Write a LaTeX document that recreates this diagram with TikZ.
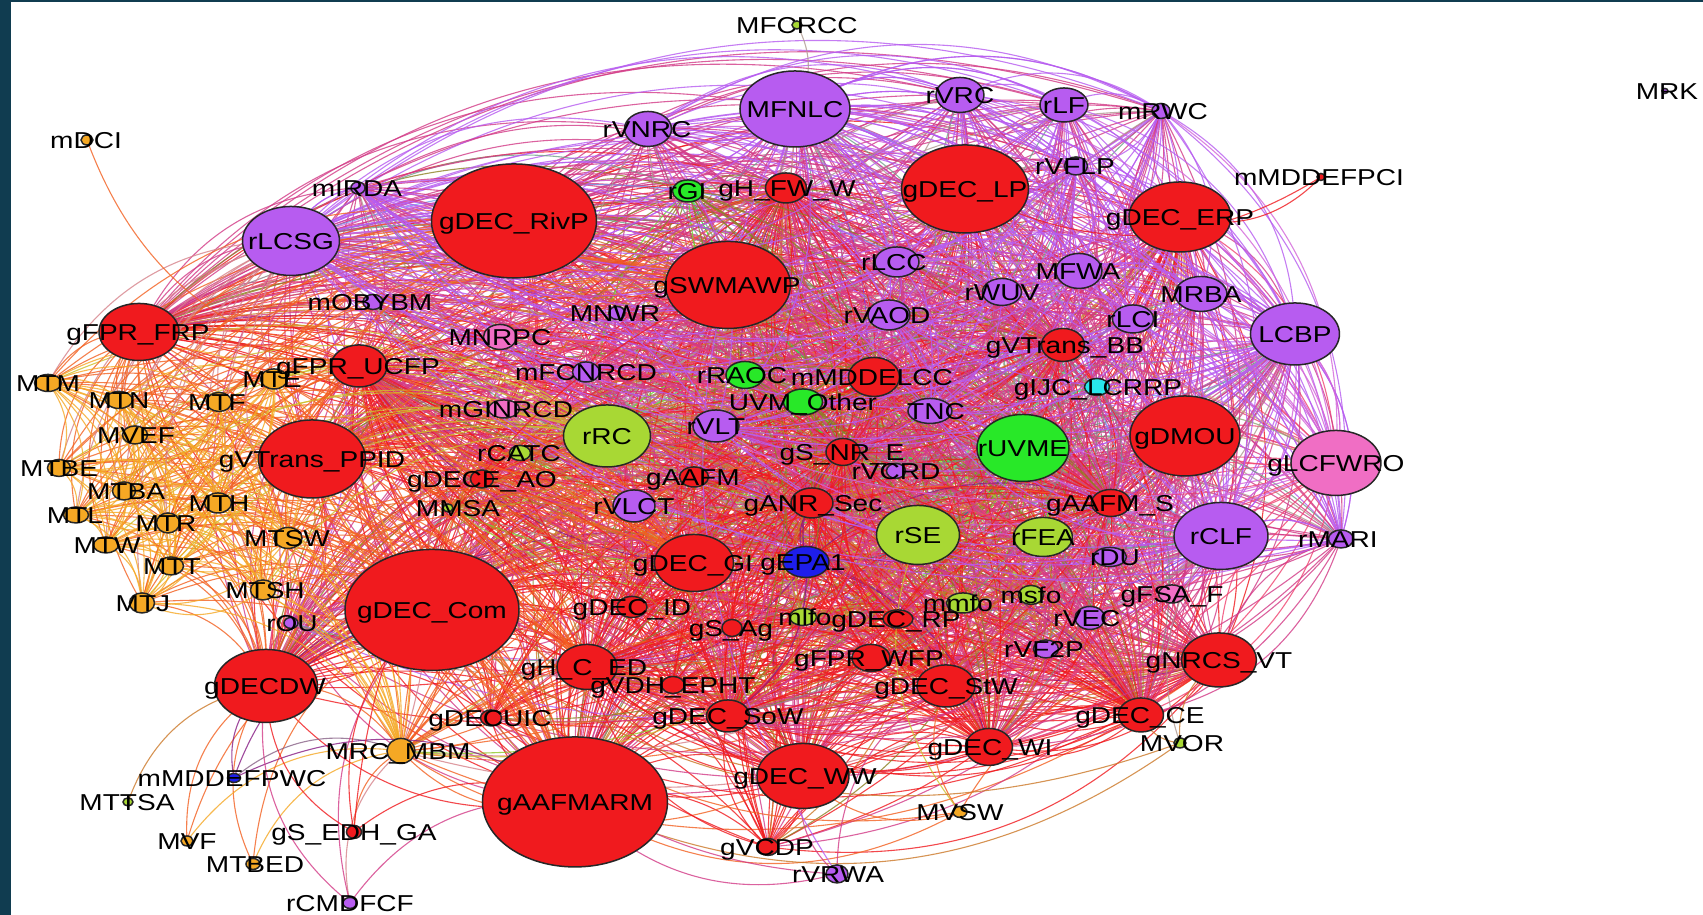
\documentclass[tikz,border=0pt]{standalone}
\usepackage{fontspec}
\setmainfont[FakeStretch=1.22]{Liberation Sans}
\usetikzlibrary{shapes.geometric}
\definecolor{nred}{RGB}{240,26,30}
\definecolor{npur}{RGB}{183,92,240}
\definecolor{nyg}{RGB}{168,216,52}
\definecolor{ngrn}{RGB}{40,232,40}
\definecolor{norg}{RGB}{245,168,36}
\definecolor{npink}{RGB}{240,110,196}
\definecolor{ncyan}{RGB}{40,230,235}
\definecolor{nblue}{RGB}{30,30,235}
\definecolor{frame}{RGB}{16,60,80}
\pgfdeclarelayer{bg}
\pgfdeclarelayer{edges}
\pgfdeclarelayer{labels}
\pgfsetlayers{bg,edges,main,labels}
\tikzset{
  nd/.style={ellipse, draw=black!85, line width=0.075pt, inner sep=0pt, outer sep=0pt},
  lbl/.style={inner sep=0pt, text height=0.825pt, text depth=0pt, font=\fontsize{1.15pt}{1.3pt}\selectfont, text=black},
  lnk/.style={line width=0.055pt, opacity=0.8},
}
\newcommand\E[2]{%
  \edef\edgeA{#1}\edef\edgeB{#2}%
  \ifx\edgeA\edgeB\else
    \edef\ecol{\csname nodecol-#1\endcsname!50!\csname nodecol-#2\endcsname}%
    \draw[lnk,draw=\ecol] (#1.center) to[bend left=30] (#2.center);%
  \fi}
\def\nodelist{%
MFCRCC/797/25/10/8/nyg/797/MFCRCC,
MFNLC/795/109/110/76/npur/795/MFNLC,
rVNRC/648/129/47/35/npur/647/rVNRC,
rVRC/960/95/48/35/npur/960/rVRC,
rLF/1064/105/48/34/npur/1064/rLF,
mRWC/1161/111/18/15/npur/1163/mRWC,
mDCI/87/140/12/10/norg/86/mDCI,
mIRDA/358/188/14/12/npur/357/mIRDA,
rLCSG/291/241/97/69/npur/291/rLCSG,
gDECRivP/514/221/165/114/nred/514/gDEC\_RivP,
mOBYBM/373/302/20/15/npur/370/mOBYBM,
rGI/688/191/31/22/ngrn/687/rGI,
gHFWW/786/188/41/30/nred/787/gH\_FW\_W,
gDECLP/965/189/127/88/nred/965/gDEC\_LP,
rVFLP/1076/166/23/18/npur/1075/rVFLP,
mMDDEFPCI/1321/177/8/7/nred/1319/mMDDEFPCI,
gDECERP/1180/217/102/70/nred/1180/gDEC\_ERP,
MRK/1665/91/6/5/npur/1667/MRK,
gSWMAWP/728/285/125/87/nred/727/gSWMAWP,
rLCC/897/262/44/30/npur/894/rLCC,
MFWA/1079/271/46/35/npur/1078/MFWA,
rWUV/1002/292/39/27/npur/1002/rWUV,
MRBA/1201/294/52/35/npur/1201/MRBA,
MNWR/617/313/16/13/npur/615/MNWR,
rVAOD/889/315/42/30/npur/887/rVAOD,
rLCI/1133/319/41/28/npur/1133/rLCI,
LCBP/1295/334/89/62/npur/1295/LCBP,
gVTransBB/1063/345/43/33/nred/1065/gVTrans\_BB,
gIJCLCRRP/1097/387/25/17/ncyan/1098/gIJC\_LCRRP,
gFPRFRP/139/332/80/57/nred/138/gFPR\_FRP,
gFPRUCFP/359/366/56/42/nred/358/gFPR\_UCFP,
MNRPC/500/337/33/25/npink/500/MNRPC,
MTM/48/383/27/17/norg/48/MTM,
MTN/119/400/27/17/norg/119/MTN,
MTE/274/379/27/20/norg/272/MTE,
MTF/219/402/25/19/norg/217/MTF,
mFCNRCD/586/372/27/20/npur/586/mFCNRCD,
mGINRCD/504/409/31/18/npink/506/mGINRCD,
MVEF/135/435/25/18/norg/136/MVEF,
MTBE/59/468/23/17/norg/59/MTBE,
gVTransPPID/312/459/107/78/nred/312/gVTrans\_PPID,
rCATC/520/453/21/15/nyg/519/rCATC,
gDECEAO/482/479/23/18/nred/482/gDECE\_AO,
MTBA/124/491/23/18/norg/126/MTBA,
MTH/218/503/27/20/norg/219/MTH,
MTL/76/515/25/16/norg/75/MTL,
MTR/168/523/23/20/norg/166/MTR,
MMSA/448/508/10/8/nyg/458/MMSA,
MTW/106/545/25/16/norg/107/MTW,
MTSW/288/538/28/21/norg/287/MTSW,
MTT/171/566/25/18/norg/172/MTT,
MTSH/263/590/25/20/norg/265/MTSH,
MTJ/142/603/25/20/norg/143/MTJ,
gDECCom/432/610/174/121/nred/432/gDEC\_Com,
rOU/291/623/14/11/npur/292/rOU,
gDECDW/266/686/103/73/nred/265/gDECDW,
gDECUIC/491/718/21/16/nred/490/gDECUIC,
MRCMBM/401/751/28/25/norg/398/MRC\_MBM,
mMDDEFPWC/234/778/13/9/nblue/232/mMDDEFPWC,
MTTSA/128/802/10/8/nyg/127/MTTSA,
MVF/187/841/12/10/norg/187/MVF,
MTBED/253/864/14/11/norg/255/MTBED,
gSEDHGA/354/832/15/13/nred/354/gS\_EDH\_GA,
rCMDFCF/350/903/14/11/npur/350/rCMDFCF,
gAAFMARM/575/802/185/130/nred/575/gAAFMARM,
rRAOC/745/375/38/27/ngrn/742/rRAOC,
mMDDELCC/874/377/51/39/nred/872/mMDDELCC,
UVMOther/803/402/39/26/ngrn/803/UVM\_Other,
rVLT/716/426/46/32/npur/716/rVLT,
TNC/930/411/44/25/npur/936/TNC,
rRC/607/436/87/62/nyg/607/rRC,
gSNRE/843/452/34/27/nred/842/gS\_NR\_E,
rVCRD/896/471/19/15/npur/896/rVCRD,
rUVME/1023/448/92/67/ngrn/1023/rUVME,
gAAFM/694/477/29/20/nred/693/gAAFM,
rVLCT/634/506/42/32/npur/634/rVLCT,
gANRSec/812/503/42/30/nred/813/gANR\_Sec,
gAAFMS/1111/503/39/27/nred/1110/gAAFM\_S,
rSE/918/535/83/59/nyg/918/rSE,
rFEA/1043/537/59/39/nyg/1043/rFEA,
rDU/1110/557/33/19/npur/1115/rDU,
gDMOU/1185/436/110/80/nred/1185/gDMOU,
gLCFWRO/1336/463/90/65/npink/1336/gLCFWRO,
rCLF/1221/536/94/67/npur/1221/rCLF,
rMARI/1341/539/25/18/npur/1338/rMARI,
gDECGI/694/563/79/57/nred/693/gDEC\_GI,
gEPA1/806/562/46/31/nblue/803/gEPA1,
gDECID/632/607/30/21/nred/632/gDEC\_ID,
gSAg/732/628/20/17/nred/731/gS\_Ag,
gHCED/587/667/60/45/nred/584/gH\_C\_ED,
gVDHEPHT/673/685/23/17/nred/673/gVDH\_EPHT,
gDECSoW/728/716/43/32/nred/728/gDEC\_SoW,
mlfo/803/617/27/17/nyg/805/mlfo,
gDECRP/898/619/30/18/nred/896/gDEC\_RP,
mmfo/963/603/33/20/nyg/958/mmfo,
msfo/1031/595/25/19/nyg/1031/msfo,
gFSAF/1172/594/27/18/npink/1172/gFSA\_F,
rVEC/1090/618/30/23/npur/1087/rVEC,
rVF2P/1046/649/25/18/npur/1044/rVF2P,
gFPRWFP/871/658/38/27/nred/869/gFPR\_WFP,
gDECStW/946/686/58/42/nred/946/gDEC\_StW,
gNRCSVT/1219/660/75/54/nred/1219/gNRCS\_VT,
gDECCE/1141/715/45/34/nred/1140/gDEC\_CE,
MVOR/1180/743/12/10/nyg/1182/MVOR,
gDECWI/989/747/47/37/nred/990/gDEC\_WI,
gDECWW/803/776/92/65/nred/805/gDEC\_WW,
MVSW/960/812/14/11/norg/960/MVSW,
gVCDP/768/847/21/17/nred/767/gVCDP,
rVRWA/837/874/22/18/npur/838/rVRWA}
\def\hubs{gDECRivP,gDECCom,gAAFMARM,gSWMAWP,gDECLP,gVTransPPID,gDMOU,gDECERP,gFPRFRP,gDECDW,gDECWW,gDECGI,gNRCSVT,MFNLC,rLCSG,LCBP,rCLF,rUVME,rRC,rSE}
\def\core{rVNRC,rVRC,rLF,mRWC,mIRDA,mOBYBM,rGI,gHFWW,rVFLP,rLCC,MFWA,rWUV,MRBA,MNWR,rVAOD,rLCI,gVTransBB,gIJCLCRRP,gFPRUCFP,MNRPC,mFCNRCD,mGINRCD,rCATC,gDECEAO,MMSA,rOU,gDECUIC,MRCMBM,rRAOC,mMDDELCC,UVMOther,rVLT,TNC,gSNRE,rVCRD,gAAFM,rVLCT,gANRSec,gAAFMS,rFEA,rDU,gLCFWRO,rMARI,gEPA1,gDECID,gSAg,gHCED,gVDHEPHT,gDECSoW,mlfo,gDECRP,mmfo,msfo,gFSAF,rVEC,rVF2P,gFPRWFP,gDECStW,gDECCE,gDECWI,gVCDP}
\def\tier{gHFWW,mMDDELCC,gVTransBB,gFPRUCFP,gHCED,gDECStW,gDECCE,gDECWI,gANRSec,gAAFMS,gDECSoW,gSNRE}
\def\orng{MTM,MTN,MTE,MTF,MVEF,MTBE,MTBA,MTH,MTL,MTR,MTW,MTSW,MTT,MTSH,MTJ}
\def\lefthubs{gFPRFRP,gVTransPPID,gDECCom,gDECDW,gDECRivP,gFPRUCFP,gAAFMARM,rLCSG,gSWMAWP,gDECGI,gHCED,rRC,MRCMBM}
\def\purp{MFNLC,rVNRC,rVRC,rLF,mRWC,rVFLP,rLCC,MFWA,rWUV,MRBA,rLCI,LCBP,rCLF,rMARI,gLCFWRO,rVAOD,rLCSG,mIRDA,TNC,rVLT}
\begin{document}
\begin{tikzpicture}[x=0.05pt,y=-0.05pt]
\begin{pgfonlayer}{bg}
  \fill[white] (0,0) rectangle (1703,915);
  \fill[frame] (0,0) rectangle (11,915);
  \fill[frame] (0,0) rectangle (1703,2);
\end{pgfonlayer}
\useasboundingbox (0,0) rectangle (1703,915);
% nodes
\foreach \n/\x/\y/\w/\h/\c/\lx/\t in \nodelist {
  \expandafter\xdef\csname nodecol-\n\endcsname{\c}
  \node[nd, fill=\c, minimum width={\w*0.05pt}, minimum height={\h*0.05pt}] (\n) at (\x,\y) {};
}
% edges
\begin{pgfonlayer}{edges}
  \foreach \a [count=\i] in \hubs {
    \foreach \b [count=\j] in \hubs { \ifnum\j>\i \E{\a}{\b}\fi }
    \foreach \b in \core { \E{\a}{\b} }
  }
  \foreach \a in \tier { \foreach \b in \core { \E{\b}{\a} } }
  \foreach \a in \orng { \foreach \b in \lefthubs { \E{\a}{\b} } }
  \foreach \a [count=\i] in \orng {
    \foreach \b [count=\j] in \orng { \ifnum\j>\i \E{\a}{\b}\fi }
  }
  \foreach \a [count=\i] in \purp {
    \foreach \b [count=\j] in \purp { \ifnum\j>\i \E{\a}{\b}\fi }
  }
  \E{MFCRCC}{MFNLC}
  \E{gFPRUCFP}{mDCI}
  \E{mMDDEFPCI}{gDECERP}
  \E{mMDDEFPCI}{gDECLP}
  \E{MTTSA}{gDECDW}
  \foreach \b in {gDECDW,MRCMBM,gDECCom} { \E{MVF}{\b} \E{MTBED}{\b} }
  \foreach \b in {MRCMBM,gAAFMARM,gDECDW,gDECCom} { \E{rCMDFCF}{\b} \E{mMDDEFPWC}{\b} }
  \foreach \b in {gAAFMARM,gDECDW,MRCMBM,gDECCom,gSWMAWP} { \E{gSEDHGA}{\b} }
  \foreach \b in {gDECWW,gAAFMARM,gDECStW,gNRCSVT,rSE,gDECCom} { \E{MVSW}{\b} }
  \foreach \b in {gNRCSVT,gAAFMARM,gDECCE,rCLF,gDECCom} { \E{MVOR}{\b} }
  \foreach \b in {gAAFMARM,gDECWW,gDECStW,MFNLC,gDECCom} { \E{rVRWA}{\b} }
\end{pgfonlayer}
% labels
\begin{pgfonlayer}{labels}
\foreach \n/\x/\y/\w/\h/\c/\lx/\t in \nodelist {
  \node[lbl] (\n-t) at (\lx,\y) {\t};
}
\end{pgfonlayer}
\end{tikzpicture}
\end{document}
